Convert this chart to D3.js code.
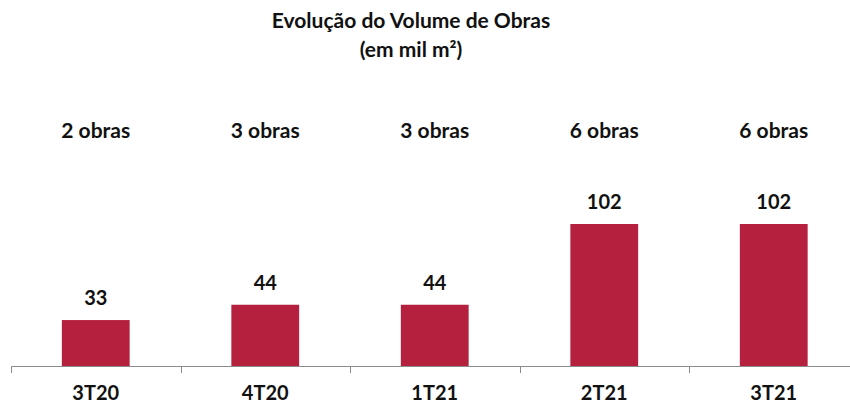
<!DOCTYPE html>
<html>
<head>
<meta charset="utf-8">
<script src="https://cdn.jsdelivr.net/npm/d3@7"></script>
<style>
  body { margin: 0; background: #fff; }
  svg text { font-family: Lato, "Open Sans", sans-serif; font-weight: bold; fill: #111; }
</style>
</head>
<body>
<svg id="chart" width="850" height="405"></svg>
<script>
// dados
const periods = ["3T20", "4T20", "1T21", "2T21", "3T21"];
const volumes = [33, 44, 44, 102, 102];
const obraLabels = ["2 obras", "3 obras", "3 obras", "6 obras", "6 obras"];

const svg = d3.select("#chart");
const baseY = 366;

const x = d3.scaleBand()
  .domain(periods)
  .range([11, 858.5])
  .padding(0);

const y = d3.scaleLinear()
  .domain([0, 102])
  .range([baseY, 224]);

const barW = x.bandwidth() * 0.4;

// titulo
svg.append("text")
  .attr("x", 411).attr("y", 28)
  .attr("text-anchor", "middle")
  .style("font-size", "21px")
  .text("Evolução do Volume de Obras");
svg.append("text")
  .attr("x", 411).attr("y", 57)
  .attr("text-anchor", "middle")
  .style("font-size", "21px")
  .text("(em mil m²)");

// barras
svg.selectAll("rect.bar")
  .data(volumes)
  .enter()
  .append("rect")
  .attr("class", "bar")
  .attr("x", (d, i) => x(periods[i]) + (x.bandwidth() - barW) / 2)
  .attr("y", d => y(d))
  .attr("width", barW)
  .attr("height", d => baseY - y(d))
  .attr("fill", "#B5203E");

// valores
svg.selectAll("text.val")
  .data(volumes)
  .enter()
  .append("text")
  .attr("class", "val")
  .attr("x", (d, i) => x(periods[i]) + x.bandwidth() / 2)
  .attr("y", d => y(d) - 15)
  .attr("text-anchor", "middle")
  .style("font-size", "20px")
  .text(d => d);

// obras
svg.selectAll("text.obras")
  .data(obraLabels)
  .enter()
  .append("text")
  .attr("class", "obras")
  .attr("x", (d, i) => x(periods[i]) + x.bandwidth() / 2)
  .attr("y", 138)
  .attr("text-anchor", "middle")
  .style("font-size", "21px")
  .text(d => d);

// eixo
const axis = svg.append("g")
  .attr("transform", `translate(0, ${baseY})`)
  .call(d3.axisBottom(x).tickSize(0));
axis.select(".domain").attr("stroke", "#8c8c8c").attr("d", "M11,0.5H850");
axis.selectAll(".tick text")
  .attr("dy", null)
  .attr("y", 34)
  .style("font-size", "20px")
  .style("font-family", "Lato, 'Open Sans', sans-serif")
  .attr("fill", "#111");

// ticks nas bordas das categorias
const edges = periods.map(p => x(p));
svg.selectAll("line.edge")
  .data(edges)
  .enter()
  .append("line")
  .attr("class", "edge")
  .attr("x1", d => Math.round(d) + 0.5)
  .attr("x2", d => Math.round(d) + 0.5)
  .attr("y1", baseY)
  .attr("y2", baseY + 7)
  .attr("stroke", "#8c8c8c");
</script>
</body>
</html>
